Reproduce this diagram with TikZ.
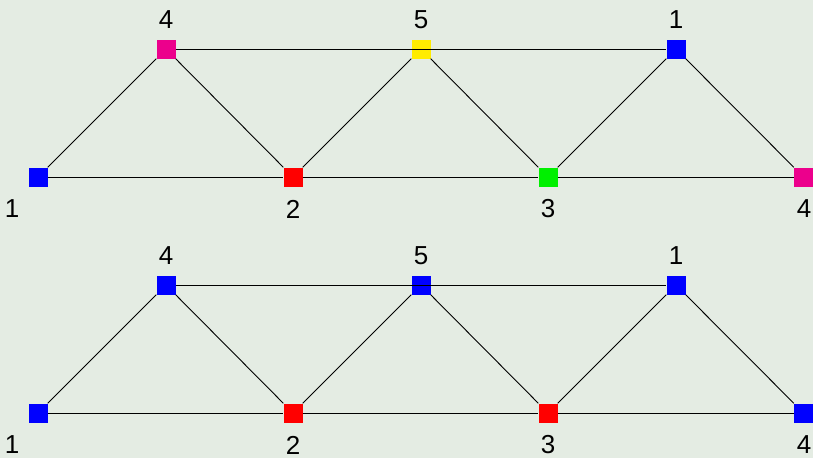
\documentclass[tikz,border=0pt]{standalone}
\usepackage{fontspec}
\setmainfont{Liberation Sans}
\usetikzlibrary{positioning}
\definecolor{bgcol}{HTML}{E4ECE3}
\definecolor{vblue}{HTML}{0000FF}
\definecolor{vred}{HTML}{FF0000}
\definecolor{vgreen}{HTML}{00F000}
\definecolor{vpink}{HTML}{EC008C}
\definecolor{vyellow}{HTML}{FFEC00}

\begin{document}
\begin{tikzpicture}[x=1pt,y=-1pt,
  vertex/.style={rectangle,draw=none,minimum size=19pt,inner sep=0pt},
  lbl/.style={font=\fontsize{26}{30}\selectfont,inner sep=0pt},
  edge/.style={black,line width=0.9pt}]
  \fill[bgcol] (0,0) rectangle (813,458);
  \useasboundingbox (0,0) rectangle (813,458);
  % two copies: upper one coloured with five colours, lower one with three
  \foreach \dy/\ca/\cb/\cc/\cd/\ce/\p in {0/vblue/vred/vgreen/vpink/vyellow/u,
                                          236/vblue/vred/vred/vblue/vblue/l}{
    \node[vertex,fill=\ca] (\p-1) at (38,177+\dy) {};
    \node[vertex,fill=\cd] (\p-4l) at (166,49+\dy) {};
    \node[vertex,fill=\cb] (\p-2) at (293,177+\dy) {};
    \node[vertex,fill=\ce] (\p-5) at (421,49+\dy) {};
    \node[vertex,fill=\cc] (\p-3) at (548,177+\dy) {};
    \node[vertex,fill=\ca] (\p-1r) at (676,49+\dy) {};
    \node[vertex,fill=\cd] (\p-4r) at (803.5,177+\dy) {};
    \draw[edge] (\p-1) -- (\p-4l) -- (\p-2) -- (\p-5) -- (\p-3) -- (\p-1r) -- (\p-4r);
    \draw[edge] (\p-1) -- (\p-2) -- (\p-3) -- (\p-4r);
    \draw[edge] (\p-4l) -- (\p-1r);
    % numbers
    \node[lbl] (\p-t4) at (166,20+\dy) {4};
    \node[lbl] (\p-t5) at (421,20+\dy) {5};
    \node[lbl] (\p-t1) at (676,20+\dy) {1};
    \node[lbl] (\p-b1) at (12,209+\dy) {1};
    \node[lbl] (\p-b2) at (293,209+\dy) {2};
    \node[lbl] (\p-b3) at (548,209+\dy) {3};
    \node[lbl] (\p-b4) at (804,209+\dy) {4};
  }
\end{tikzpicture}
\end{document}
